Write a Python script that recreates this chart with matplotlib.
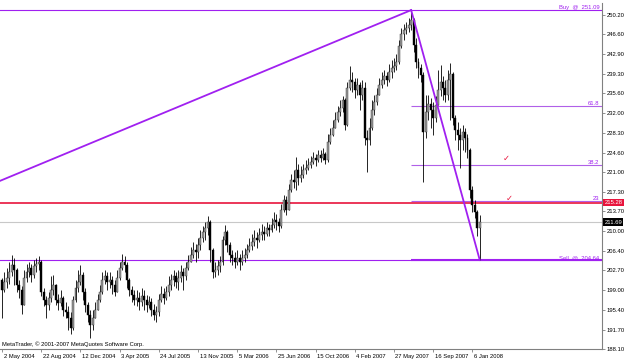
import numpy as np
import matplotlib
matplotlib.use("Agg")
import matplotlib.pyplot as plt
from matplotlib.transforms import ScaledTranslation

# weekly bars, May 2004 .. Jan 2008
closes = [
    199.1, 200.6, 201.3, 202.4, 203.7, 202.8, 200.0, 199.1, 196.3, 201.3,
    202.4, 203.2, 201.9, 203.6, 203.9, 204.3, 198.7, 197.2, 196.3, 197.6,
    199.1, 200.0, 197.2, 196.7, 197.6, 195.4, 195.0, 193.9, 192.0, 197.2,
    199.5, 200.6, 201.9, 198.7, 196.3, 194.4, 192.6, 193.9, 195.4, 197.2,
    198.7, 200.9, 201.7, 200.6, 200.9, 200.0, 198.7, 201.3, 203.2, 204.3,
    203.7, 200.9, 199.1, 198.2, 197.2, 197.6, 196.9, 198.0, 197.2, 196.3,
    196.9, 195.4, 194.4, 195.0, 197.2, 198.3, 197.6, 198.7, 200.0, 200.9,
    201.7, 200.6, 201.3, 202.4, 201.7, 203.2, 204.3, 205.6, 206.5, 206.2,
    207.5, 208.8, 209.9, 210.6, 211.7, 206.5, 202.4, 202.8, 203.6, 204.3,
    208.4, 209.9, 207.5, 205.6, 205.0, 204.3, 205.0, 204.3, 205.0, 205.6,
    206.5, 207.3, 208.0, 208.8, 208.4, 209.3, 209.9, 209.5, 210.6, 210.2,
    211.2, 212.1, 211.7, 211.0, 213.9, 215.8, 213.9, 217.7, 219.5, 219.2,
    221.4, 219.9, 220.5, 221.4, 221.8, 222.3, 222.9, 223.6, 223.3, 224.2,
    223.6, 224.4, 223.3, 226.6, 227.9, 229.2, 230.7, 232.2, 232.9, 234.4,
    229.8, 236.6, 238.1, 237.8, 236.3, 237.2, 235.3, 236.6, 227.3, 227.0,
    229.2, 232.5, 234.0, 235.3, 237.2, 238.1, 238.9, 238.1, 239.6, 240.4,
    240.7, 241.5, 244.4, 246.7, 247.4, 247.8, 248.4, 249.3, 244.6, 241.5,
    240.4, 239.1, 228.5, 232.2, 233.7, 232.5, 231.1, 233.5, 236.3, 237.8,
    236.6, 235.3, 238.1, 239.2, 231.1, 228.8, 227.9, 227.0, 228.5, 227.3,
    225.1, 217.7, 214.9, 213.6, 210.6, 211.69,
]
highs = [
    201.3, 202.4, 203.2, 204.3, 205.6, 205.0, 203.2, 200.9, 199.8, 202.8,
    203.9, 204.3, 203.9, 204.7, 205.0, 205.4, 204.7, 199.5, 198.0, 198.7,
    201.7, 201.9, 200.2, 198.3, 199.1, 198.0, 196.9, 196.1, 195.0, 198.0,
    200.9, 202.8, 203.7, 202.4, 199.5, 196.9, 195.4, 195.4, 196.9, 198.3,
    200.0, 202.4, 202.8, 202.4, 202.4, 201.7, 200.9, 202.8, 204.3, 205.8,
    205.4, 204.3, 201.3, 199.8, 199.1, 199.1, 198.7, 199.5, 199.1, 198.2,
    198.0, 197.6, 196.5, 196.1, 198.3, 199.8, 199.5, 199.8, 201.7, 202.1,
    202.8, 202.4, 202.8, 203.7, 203.2, 204.3, 205.6, 207.1, 208.0, 207.6,
    208.8, 210.2, 211.0, 211.7, 212.8, 212.1, 206.9, 204.3, 204.7, 205.4,
    209.1, 211.2, 210.2, 208.0, 206.5, 206.2, 206.5, 205.8, 206.5, 206.9,
    207.6, 208.8, 209.5, 210.2, 209.9, 210.6, 211.4, 211.0, 211.7, 211.4,
    212.5, 213.6, 213.2, 212.5, 215.1, 216.8, 216.6, 218.8, 220.7, 221.4,
    223.8, 222.5, 222.1, 222.5, 223.3, 223.6, 224.0, 224.7, 224.4, 225.1,
    225.1, 225.5, 224.7, 228.1, 229.2, 230.7, 232.2, 233.3, 234.4, 235.2,
    234.8, 237.8, 240.7, 239.6, 238.5, 238.5, 237.8, 238.1, 237.8, 228.8,
    231.1, 234.4, 235.3, 236.6, 238.5, 239.6, 240.0, 239.6, 241.1, 241.8,
    242.2, 243.0, 245.6, 247.8, 248.5, 248.9, 249.7, 251.09, 249.7, 245.9,
    242.2, 241.1, 239.6, 235.3, 235.3, 234.8, 234.0, 235.2, 240.0, 240.9,
    238.9, 238.1, 240.0, 241.3, 239.6, 231.6, 230.3, 229.2, 229.8, 229.2,
    228.1, 225.5, 218.4, 215.8, 213.9, 213.0,
]
lows = [
    193.9, 198.7, 199.5, 200.2, 201.7, 200.0, 198.7, 197.6, 194.6, 197.2,
    200.6, 201.5, 200.6, 201.3, 202.4, 202.8, 198.0, 196.1, 193.9, 195.4,
    196.9, 198.2, 196.3, 195.4, 196.1, 194.3, 193.9, 191.7, 190.9, 191.7,
    196.9, 198.7, 200.0, 197.2, 195.0, 193.1, 190.2, 191.7, 193.9, 195.4,
    196.9, 198.3, 200.2, 199.1, 199.5, 198.3, 198.0, 198.7, 200.9, 202.8,
    202.4, 199.5, 198.0, 196.9, 196.3, 196.1, 195.4, 196.1, 195.4, 195.0,
    195.7, 194.3, 193.5, 193.1, 194.3, 196.9, 196.5, 197.2, 198.0, 199.1,
    199.8, 199.5, 199.1, 200.6, 199.1, 200.9, 202.8, 204.3, 205.0, 204.3,
    205.0, 206.5, 208.0, 208.4, 209.3, 204.3, 201.3, 201.5, 201.9, 202.4,
    203.7, 207.5, 206.2, 204.3, 203.7, 203.2, 203.7, 202.8, 203.7, 204.3,
    205.0, 206.2, 206.5, 207.3, 206.9, 208.0, 208.4, 208.4, 209.1, 209.1,
    209.9, 210.6, 210.2, 209.9, 210.6, 213.6, 213.0, 214.3, 217.3, 218.1,
    217.7, 218.6, 219.2, 219.9, 220.7, 221.4, 221.8, 222.5, 222.1, 222.9,
    222.9, 223.3, 222.5, 222.9, 226.2, 227.7, 229.2, 230.3, 231.4, 232.2,
    228.8, 229.6, 236.3, 235.9, 234.8, 235.3, 232.5, 234.4, 226.0, 221.0,
    226.0, 228.8, 231.6, 233.5, 235.3, 236.6, 237.4, 237.0, 237.8, 238.5,
    239.6, 240.0, 241.1, 244.1, 245.6, 246.7, 247.1, 247.4, 243.3, 240.4,
    238.5, 237.8, 219.2, 227.3, 230.7, 229.2, 227.9, 230.3, 234.4, 235.2,
    234.4, 234.0, 234.4, 230.7, 229.8, 227.0, 225.1, 221.8, 225.1, 224.7,
    223.6, 216.2, 213.6, 212.5, 209.1, 204.64,
]
first_open = 200.9

date_labels = ["2 May 2004", "22 Aug 2004", "12 Dec 2004", "3 Apr 2005",
               "24 Jul 2005", "13 Nov 2005", "5 Mar 2006", "25 Jun 2006",
               "15 Oct 2006", "4 Feb 2007", "27 May 2007", "16 Sep 2007",
               "6 Jan 2008"]
price_ticks = [250.20, 246.60, 242.90, 239.30, 235.60, 232.00, 228.30, 224.60,
               221.00, 217.30, 213.70, 210.00, 206.40, 202.70, 199.00, 195.40,
               191.70, 188.10]

buy_price = 251.09
sell_price = 204.64
alert_price = 215.28
last_price = 211.69
trend_start = 219.35
fib_levels = [23.6, 38.2, 61.8]
fib_names = ["23", "38.2", "61.8"]

plt.rcParams['font.family'] = ['Liberation Sans', 'DejaVu Sans']

purple = '#a020f0'
red = '#e8143c'
FS = 4.2

fig = plt.figure(figsize=(6.25, 3.61), dpi=100)
ax = fig.add_axes([0, 12 / 361, 602 / 625, 346 / 361])

n = len(closes)
idx = np.arange(n)
c = np.array(closes)
o = np.array([first_open] + closes[:-1])
hi = np.maximum(np.array(highs), np.maximum(o, c))
lo = np.minimum(np.array(lows), np.minimum(o, c))
up = c >= o
body_lo = np.minimum(o, c)
body_h = np.maximum(np.abs(c - o), 0.15)

# horizontal objects
xr = 244.9
peak = int(np.argmax(highs))
rng = buy_price - sell_price
ax.axhline(last_price, color='#c8c8c8', lw=0.8, zorder=1)
ax.axhline(buy_price, color=purple, lw=0.8, zorder=1)
ax.axhline(sell_price, color=purple, lw=0.8, zorder=1)
for lvl in fib_levels:
    ax.hlines(sell_price + rng * lvl / 100, peak, xr, color='#b060e8', lw=0.8, zorder=1)
ax.hlines(sell_price, peak, xr, color=purple, lw=1.5, zorder=1)
ax.axhline(alert_price, color=red, lw=1.2, zorder=1)

# candles
ax.vlines(idx, lo, hi, color='black', lw=0.6, zorder=2)
ax.bar(idx[up], body_h[up], bottom=body_lo[up], width=0.8, color='#9a9a9a',
       edgecolor='#303030', lw=0.3, zorder=3)
ax.bar(idx[~up], body_h[~up], bottom=body_lo[~up], width=0.8, color='black',
       edgecolor='black', lw=0.3, zorder=3)

# trend lines
ax.plot([-0.82, peak], [trend_start, buy_price], color=purple, lw=1.3, zorder=4)
ax.plot([peak, n - 1], [buy_price, sell_price], color=purple, lw=1.3, zorder=4)

# labels on the chart
yt = ax.get_yaxis_transform()
ax.text(0.996, buy_price, "Buy  @  251.09", transform=yt, ha='right', va='bottom',
        color=purple, fontsize=FS)
ax.text(0.996, sell_price, "Sell  @  204.64", transform=yt, ha='right', va='bottom',
        color=purple, fontsize=FS)
for lvl, name in zip(fib_levels, fib_names):
    ax.text(0.996, sell_price + rng * lvl / 100, name, transform=yt, ha='right',
            va='bottom', color=purple, fontsize=FS)

ax.text(206.0, 222.6, "\u2713", color=red, fontsize=6, family='DejaVu Sans',
        ha='center', va='bottom', zorder=5)
ax.text(207.0, 215.3, "\u2713", color=red, fontsize=6, family='DejaVu Sans',
        ha='center', va='bottom', zorder=5)

ax.text(0.004, 0.006, "MetaTrader, \u00a9 2001-2007 MetaQuotes Software Corp.",
        transform=ax.transAxes, ha='left', va='bottom', fontsize=FS)

# price boxes on the scale
ax.text(1.004, alert_price, "215.28", transform=yt, ha='left', va='center',
        color='white', fontsize=FS, clip_on=False,
        bbox=dict(boxstyle='square,pad=0.2', fc=red, ec='none'))
ax.text(1.004, last_price, "211.69", transform=yt, ha='left', va='center',
        color='white', fontsize=FS, clip_on=False,
        bbox=dict(boxstyle='square,pad=0.2', fc='black', ec='none'))

ax.set_xlim(-0.82, xr)
ax.set_ylim(188.1, 252.41)

ax.yaxis.tick_right()
ax.set_yticks(price_ticks)
ax.set_yticklabels(["%.2f" % p for p in price_ticks])
ax.set_xticks(list(range(0, 16 * len(date_labels), 16)))
ax.set_xticklabels(date_labels, ha='left')
ax.tick_params(axis='both', labelsize=FS, length=2.5, width=0.6, color='#808080', pad=1)
for lab in ax.get_xticklabels():
    lab.set_transform(lab.get_transform() + ScaledTranslation(1.5 / 100, 0, fig.dpi_scale_trans))

for s in ['left', 'top']:
    ax.spines[s].set_visible(False)
for s in ['right', 'bottom']:
    ax.spines[s].set_color('#808080')
    ax.spines[s].set_linewidth(0.8)

fig.savefig("out.png", dpi=100, facecolor='white')
